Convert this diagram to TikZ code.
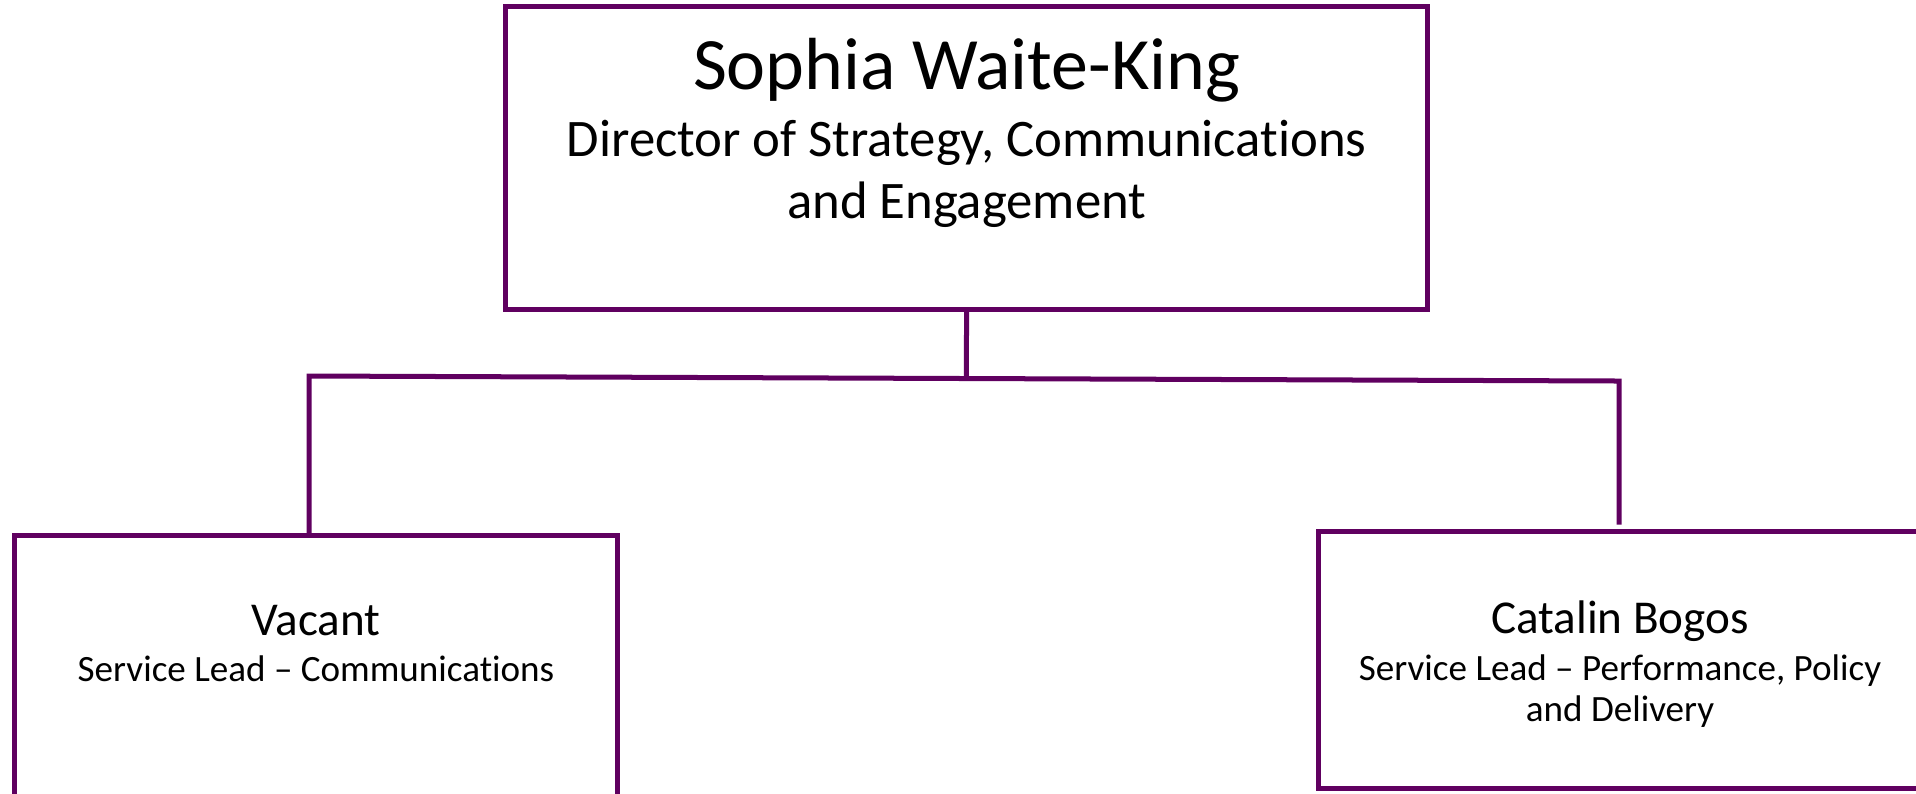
\documentclass[tikz,border=0pt]{standalone}
\usepackage{fontspec}
\setmainfont[Ligatures={TeX,NoCommon}]{Carlito}
\usetikzlibrary{calc}

\definecolor{orgpurple}{RGB}{96,0,96}

\tikzset{
    postbox/.style={draw=orgpurple, line width=0.05cm, rectangle, inner sep=0pt, outer sep=0pt},
    orgline/.style={draw=orgpurple, line width=0.05cm},
}

\begin{document}
\begin{tikzpicture}[x=0.01cm, y=-0.01cm]

\useasboundingbox (0,0) rectangle (1916,793);
\clip (0,0) rectangle (1916,793);

% Director box
\node[postbox, minimum width=9.21cm, minimum height=3.02cm] (director) at (966.6,158) {};

% Label for Director
\node[anchor=base, font=\fontsize{21}{25}\selectfont] (directorname) at (966.6,89) {Sophia Waite-King};
\node[anchor=base, align=center, font=\fontsize{15}{17.6}\selectfont] (directorrole) at (966.6,218) {Director of Strategy, Communications\\and Engagement};

% Service Lead boxes (cut off by the page edge)
\node[postbox, minimum width=6.02cm, minimum height=2.62cm, anchor=north west] (commslead) at (14.7,535) {};
\node[postbox, minimum width=6.40cm, minimum height=2.57cm, anchor=north west] (perflead) at (1318.6,531.6) {};

% Label for Service Lead - Communications
\node[anchor=base, font=\fontsize{13.4}{16}\selectfont] (commsname) at (316,635) {Vacant};
\node[anchor=base, font=\fontsize{10.55}{11.4}\selectfont] (commsrole) at (316,681) {Service Lead -- Communications};

% Label for Service Lead - Performance
\node[anchor=base, font=\fontsize{13.4}{16}\selectfont] (perfname) at (1620,633) {Catalin Bogos};
\node[anchor=base, align=center, font=\fontsize{10.55}{11.4}\selectfont] (perfrole) at (1620,721) {Service Lead -- Performance, Policy\\and Delivery};

% Connectors
\coordinate (barleft) at (309,376);
\coordinate (barright) at (1619,381);
\draw[orgline] (director.south) -- ($(barleft)!(director.south)!(barright)$);
\draw[orgline, shorten >=0.07cm] (barleft |- commslead.north) -- (barleft) -- (barright) -- (barright |- perflead.north);

\end{tikzpicture}
\end{document}
